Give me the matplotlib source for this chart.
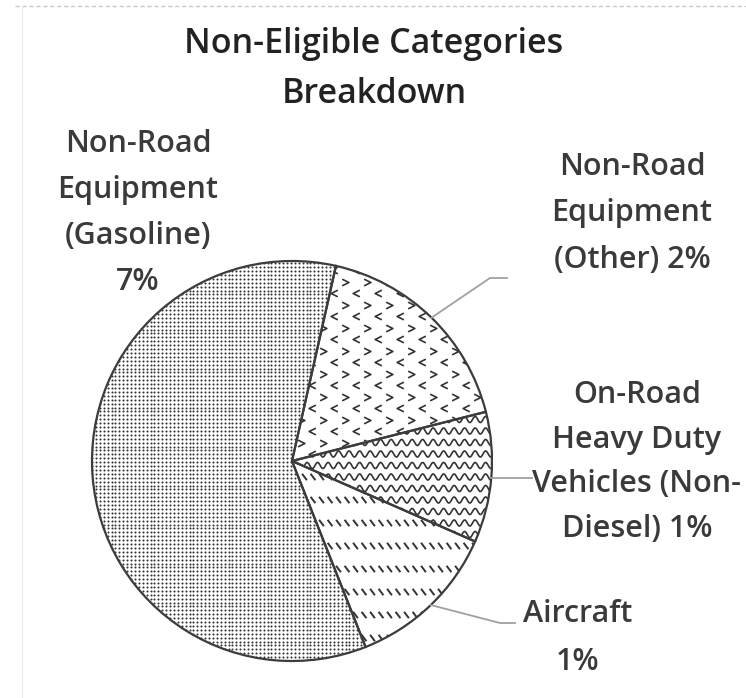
import numpy as np
import matplotlib.pyplot as plt
from matplotlib.path import Path
from matplotlib.collections import LineCollection

# slices in drawing order (clockwise from the top)
categories = ['Non-Road Equipment (Other)',
              'On-Road Heavy Duty Vehicles (Non-Diesel)',
              'Aircraft',
              'Non-Road Equipment (Gasoline)']
shares = [2.06, 1.24, 1.46, 7.0]
label_lines = [['Non-Road', 'Equipment', '(Other) 2%'],
               ['On-Road', 'Heavy Duty', 'Vehicles (Non-', 'Diesel) 1%'],
               ['Aircraft', '1%'],
               ['Non-Road', 'Equipment', '(Gasoline)', '7%']]
title_lines = ['Non-Eligible Categories', 'Breakdown']

W, H = 746, 698
FONT = ['Open Sans', 'DejaVu Sans']
TXT = '#3a3a3a'

fig = plt.figure(figsize=(W / 100, H / 100), dpi=100)
ax = fig.add_axes([0, 0, 1, 1])


def py(y):
    return H - y


cx, cy, r = 292, py(461), 200
start = 77.3

# white base, textures, then outlines on top
base, _ = ax.pie(shares, startangle=start, counterclock=False, center=(cx, cy),
                 radius=r, wedgeprops=dict(facecolor='white', edgecolor='none'))
for w in base:
    w.set_zorder(1)

ink = '#333333'

# gasoline: fine dot grid
gx, gy = np.meshgrid(np.arange(cx - r, cx + r, 3.9), np.arange(cy - r, cy + r, 3.9))
dots = ax.scatter(gx.ravel(), gy.ravel(), s=2.2, c=ink, linewidths=0, zorder=2)
dots.set_clip_path(base[3])

# other: rows of chevrons
left = Path([(1, 1), (-1, 0), (1, -1)], [Path.MOVETO, Path.LINETO, Path.LINETO])
right = Path([(-1, 1), (1, 0), (-1, -1)], [Path.MOVETO, Path.LINETO, Path.LINETO])
rows = np.arange(cy - r, cy + r, 11.5)
for i, yy in enumerate(rows):
    xs = np.arange(cx - r + (i % 2) * 11, cx + r, 22)
    ln, = ax.plot(xs, np.full_like(xs, yy), ls='none', marker=left if i % 2 == 0 else right,
                  ms=4.8, mfc='none', mec=ink, mew=1.2, zorder=2)
    ln.set_clip_path(base[0])

# heavy duty: wavy lines
xw = np.linspace(cx, cx + r, 600)
waves = [np.column_stack([xw, y0 + 3.0 * np.sin(2 * np.pi * xw / 10.5)])
         for y0 in np.arange(cy - r, cy + r, 11.5)]
lc = LineCollection(waves, colors=ink, linewidths=1.2, zorder=2)
ax.add_collection(lc)
lc.set_clip_path(base[1])

# aircraft: rows of short back-slash dashes
segs = []
for y0 in np.arange(cy - r, cy + r, 23):
    for x0 in np.arange(cx - r, cx + r, 8.5):
        segs.append([(x0 - 2.4, y0 + 3.2), (x0 + 2.4, y0 - 3.2)])
dc = LineCollection(segs, colors=ink, linewidths=1.4, zorder=2)
ax.add_collection(dc)
dc.set_clip_path(base[2])

edges, _ = ax.pie(shares, startangle=start, counterclock=False, center=(cx, cy),
                  radius=r, wedgeprops=dict(facecolor='none', edgecolor='#3c3c3c',
                                            linewidth=1.6))
for w in edges:
    w.set_zorder(3)

# leader lines from the middle of the small slices
total = sum(shares)
cum = np.cumsum([0] + shares)
mids = [np.radians(start - 360 * (cum[i] + shares[i] / 2) / total) for i in range(len(shares))]
rim = [(cx + r * np.cos(a), cy + r * np.sin(a)) for a in mids]
lead = '#a0a0a0'
ax.plot([rim[0][0], 490, 507], [rim[0][1], py(278), py(278)], color=lead, lw=1.3, zorder=3)
ax.plot([rim[1][0], 532], [rim[1][1], rim[1][1]], color=lead, lw=1.3, zorder=3)
ax.plot([rim[2][0], 500, 515], [rim[2][1], py(623), py(623)], color=lead, lw=1.3, zorder=3)

# labels (centre x, first baseline, line step)
places = [(632, 175, 46.5), (637, 403, 44.7), (578, 622, 48), (138, 152, 46)]
for lines, (lx, ly, step) in zip(label_lines, places):
    for k, t in enumerate(lines):
        ax.text(lx, py(ly + k * step), t, ha='center', va='baseline', fontsize=22,
                family=FONT, weight='semibold', color=TXT)

for k, t in enumerate(title_lines):
    ax.text(374, py(53 + k * 50), t, ha='center', va='baseline', fontsize=24.5,
            family=FONT, weight='semibold', color='#222222')

# faint chart frame
ax.plot([15, W], [py(6), py(6)], color='#c8c8c8', lw=1, ls=(0, (3, 2)), zorder=0)
ax.plot([22, 22], [py(6), 0], color='#ececec', lw=1, zorder=0)

ax.set_xlim(0, W)
ax.set_ylim(0, H)
ax.set_aspect('equal')
ax.axis('off')
fig.savefig('out.png', dpi=100)
